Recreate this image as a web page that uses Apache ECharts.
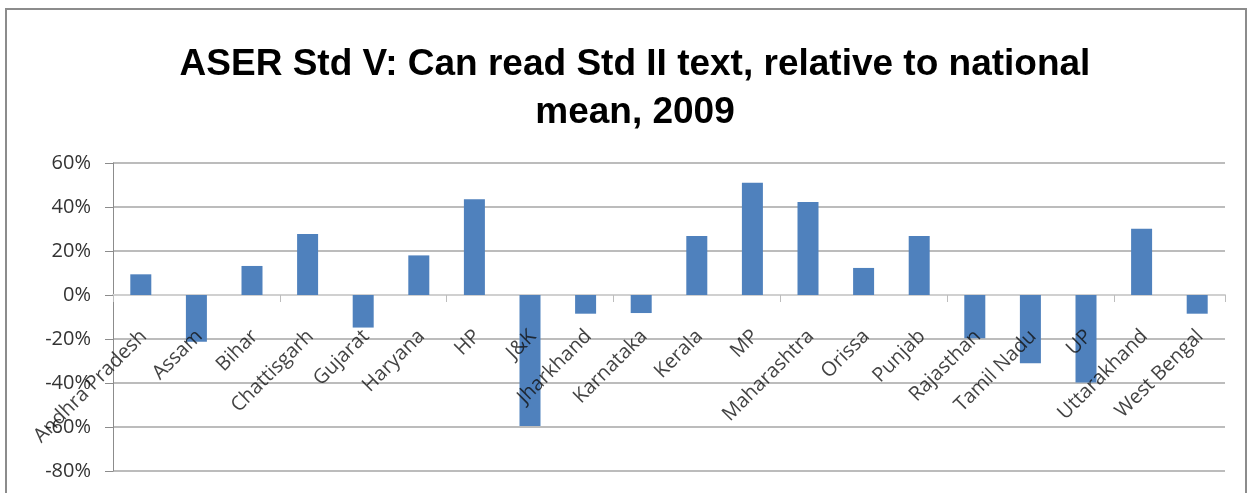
<!DOCTYPE html>
<html>
<head>
<meta charset="utf-8">
<script src="https://cdn.jsdelivr.net/npm/echarts@6/dist/echarts.min.js"></script>
<style>
  html, body { margin: 0; padding: 0; background: #fff; }
  #frame { position: absolute; left: 5px; top: 8px; width: 1242px; height: 490px; border: 2px solid #8c8c8c; box-sizing: border-box; }
  #chart { position: absolute; left: 0; top: 0; width: 1251px; height: 493px; }
</style>
</head>
<body>
<div id="frame"></div>
<div id="chart"></div>
<script>
// states along the x axis
const states = ['Andhra Pradesh', 'Assam', 'Bihar', 'Chattisgarh', 'Gujarat', 'Haryana', 'HP', 'J&K',
  'Jharkhand', 'Karnataka', 'Kerala', 'MP', 'Maharashtra', 'Orissa', 'Punjab', 'Rajasthan',
  'Tamil Nadu', 'UP', 'Uttarakhand', 'West Bengal']
// difference from national mean, in percent
const relToMean = [9.4, -21.2, 13.2, 27.7, -14.8, 18, 43.5, -59.5,
  -8.5, -8.2, 26.8, 51, 42.3, 12.3, 26.8, -19.7,
  -31, -39.8, 30.1, -8.5]
const yMin = -80
const yMax = 60
const yStep = 20

const chart = echarts.init(document.getElementById('chart'))
chart.setOption({
  animation: false,
  title: {
    text: 'ASER Std V: Can read Std II text, relative to national\nmean, 2009',
    left: 630,
    textAlign: 'center',
    top: 36,
    textStyle: {
      fontFamily: 'Liberation Sans, sans-serif',
      fontWeight: 'bold',
      fontSize: 37,
      lineHeight: 48,
      color: '#000'
    }
  },
  grid: { left: 113, right: 26, top: 163, bottom: 22, outerBoundsMode: 'none' },
  xAxis: {
    type: 'category',
    data: states,
    axisLine: { onZero: true, lineStyle: { color: '#d0d0d0', width: 2 } },
    axisTick: { show: true, length: 7, lineStyle: { color: '#bdbdbd' } },
    axisLabel: { show: false }
  },
  yAxis: {
    type: 'value',
    min: yMin,
    max: yMax,
    interval: yStep,
    axisLine: { show: true, lineStyle: { color: '#8c8c8c' } },
    axisTick: { show: true, length: 8, lineStyle: { color: '#8c8c8c' } },
    axisLabel: {
      formatter: '{value}%',
      margin: 22,
      color: '#333',
      fontSize: 20,
      fontFamily: 'Open Sans, sans-serif'
    },
    splitLine: { lineStyle: { color: '#a6a6a6', width: 1.5 } }
  },
  series: [{
    type: 'bar',
    data: relToMean,
    barWidth: 21,
    z: 2,
    itemStyle: { color: '#4f81bd' }
  }, {
    // category names sit next to the zero line, as in the source chart
    type: 'scatter',
    data: states.map(s => [s, 0]),
    symbolSize: 0,
    silent: true,
    z: 5,
    label: {
      show: true,
      formatter: p => p.data[0],
      position: [0, 0],
      offset: [-25, 29],
      rotate: 45,
      align: 'right',
      verticalAlign: 'middle',
      color: '#111',
      fontSize: 20,
      fontFamily: 'Open Sans, sans-serif'
    }
  }]
})
</script>
</body>
</html>
